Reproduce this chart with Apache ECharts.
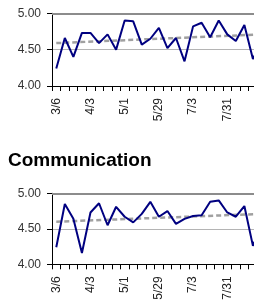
<!DOCTYPE html>
<html>
<head>
<meta charset="utf-8">
<script src="https://cdn.jsdelivr.net/npm/echarts@6/dist/echarts.min.js"></script>
<style>
  html, body { margin: 0; padding: 0; width: 254px; height: 304px; overflow: hidden; background: #fff; }
  #main { width: 280px; height: 304px; }
</style>
</head>
<body>
<div id="main"></div>
<script>
// weekly survey dates (one label every 4 weeks)
const categories = ['3/6', '3/13', '3/20', '3/27', '4/3', '4/10', '4/17', '4/24', '5/1', '5/8', '5/15', '5/22',
    '5/29', '6/5', '6/12', '6/26', '7/3', '7/10', '7/17', '7/24', '7/31', '8/7', '8/14', '8/21', '8/28'];

// upper chart (its title is cropped off)
const overallScores = [4.24, 4.66, 4.40, 4.73, 4.73, 4.59, 4.71, 4.50, 4.90, 4.89, 4.57, 4.65,
    4.80, 4.52, 4.66, 4.34, 4.82, 4.87, 4.67, 4.90, 4.71, 4.62, 4.84, 4.37, 4.62];
const overallTrend = [4.59, 4.71];

// Communication
const commScores = [4.24, 4.85, 4.64, 4.16, 4.73, 4.86, 4.55, 4.81, 4.67, 4.59, 4.71, 4.88,
    4.67, 4.75, 4.57, 4.64, 4.68, 4.69, 4.88, 4.90, 4.73, 4.67, 4.82, 4.26, 4.55];
const commTrend = [4.60, 4.71];

const yMin = 4.0;
const yMax = 5.0;
const yStep = 0.5;

const last = categories.length - 1;
const trendData = (t) => categories.map((c, i) => i === 0 ? t[0] : (i === last ? t[1] : null));

const font = '"Liberation Sans", Arial, sans-serif';

const xAxisFor = (idx) => ({
    type: 'category',
    gridIndex: idx,
    data: categories,
    boundaryGap: true,
    axisLine: {lineStyle: {color: '#000', width: 1}},
    axisTick: {show: true, interval: 0, length: 5, lineStyle: {color: '#000'}},
    axisLabel: {interval: 3, rotate: 90, fontSize: 12, margin: 12, color: '#222', fontFamily: font},
    splitLine: {show: false}
});

const yAxisFor = (idx) => ({
    type: 'value',
    gridIndex: idx,
    min: yMin,
    max: yMax,
    interval: yStep,
    axisLine: {show: true, lineStyle: {color: '#000', width: 1}},
    axisTick: {show: true, length: 5, lineStyle: {color: '#000'}},
    axisLabel: {fontSize: 12, margin: 11, color: '#333', fontFamily: font,
        formatter: (v) => v.toFixed(2)},
    splitLine: {show: true, lineStyle: {color: ['#000', '#b4b4b4', '#8c8c8c'], width: 1}}
});

const seriesFor = (idx, scores, trend) => [
    {
        type: 'line',
        xAxisIndex: idx,
        yAxisIndex: idx,
        data: trendData(trend),
        connectNulls: true,
        symbol: 'none',
        silent: true,
        z: 1,
        lineStyle: {color: '#a0a0a0', width: 2.5, type: [5, 3]},
        markLine: {
            silent: true,
            symbol: 'none',
            label: {show: false},
            lineStyle: {color: '#8c8c8c', width: 2, type: 'solid'},
            data: [{yAxis: yMax}]
        }
    },
    {
        type: 'line',
        xAxisIndex: idx,
        yAxisIndex: idx,
        data: scores,
        symbol: 'none',
        z: 3,
        lineStyle: {color: '#000080', width: 2}
    }
];

const myChart = echarts.init(document.getElementById('main'), null, {renderer: 'canvas'});

const option = {
    animation: false,
    backgroundColor: '#fff',
    title: {
        text: 'Communication',
        left: 3,
        top: 146,
        textStyle: {fontSize: 19, fontWeight: 'bold', color: '#000', fontFamily: font}
    },
    grid: [
        {left: 52, top: 13.3, width: 213.75, height: 72.7},
        {left: 52, top: 193.3, width: 213.75, height: 71}
    ],
    xAxis: [xAxisFor(0), xAxisFor(1)],
    yAxis: [yAxisFor(0), yAxisFor(1)],
    series: [
        ...seriesFor(0, overallScores, overallTrend),
        ...seriesFor(1, commScores, commTrend)
    ]
};

myChart.setOption(option);
</script>
</body>
</html>
